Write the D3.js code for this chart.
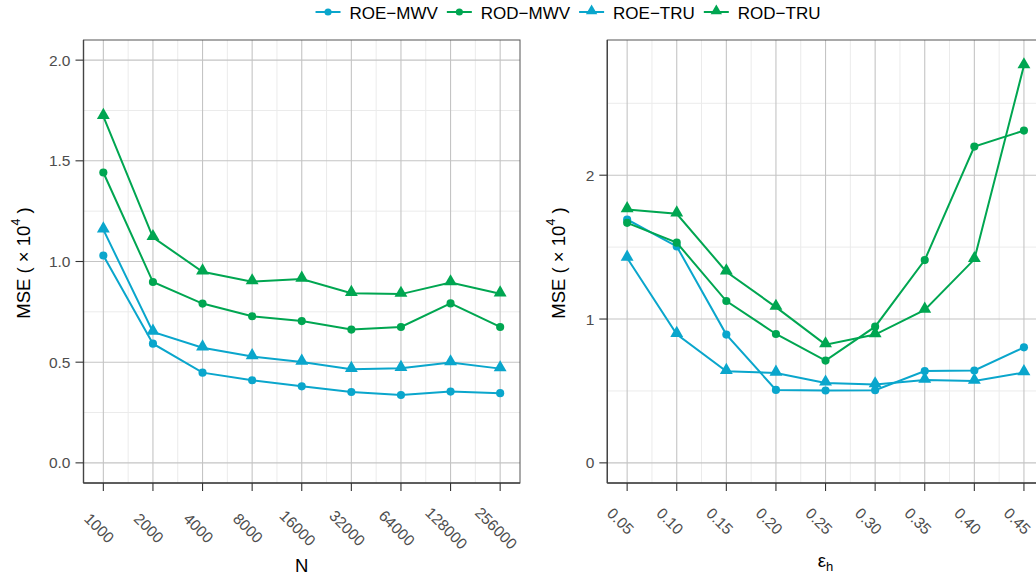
<!DOCTYPE html>
<html>
<head>
<meta charset="utf-8">
<script src="https://cdn.jsdelivr.net/npm/d3@7"></script>
<style>
  body { margin: 0; background: #fff; }
  svg { font-family: "Liberation Sans", Arial, sans-serif; }
</style>
</head>
<body>
<div id="vis"></div>
<script>
var w = 1036, h = 576;

// series names and colours
var seriesNames = ["ROE\u2212MWV", "ROD\u2212MWV", "ROE\u2212TRU", "ROD\u2212TRU"];
var seriesColors = ["#0aa6cc", "#00a651", "#0aa6cc", "#00a651"];
var seriesShapes = ["circle", "circle", "triangle", "triangle"];

// left panel: sample size N
var nValues = [1000, 2000, 4000, 8000, 16000, 32000, 64000, 128000, 256000];
var nROEMWV = [1.030, 0.592, 0.448, 0.410, 0.380, 0.352, 0.337, 0.354, 0.346];
var nRODMWV = [1.442, 0.898, 0.791, 0.728, 0.704, 0.662, 0.675, 0.792, 0.675];
var nROETRU = [1.158, 0.650, 0.572, 0.528, 0.501, 0.465, 0.470, 0.498, 0.468];
var nRODTRU = [1.721, 1.120, 0.949, 0.900, 0.913, 0.842, 0.838, 0.895, 0.840];
var nYTicks = [0, 0.5, 1.0, 1.5, 2.0];

// right panel: epsilon_h
var eValues = [0.05, 0.10, 0.15, 0.20, 0.25, 0.30, 0.35, 0.40, 0.45];
var eROEMWV = [1.692, 1.505, 0.892, 0.507, 0.503, 0.505, 0.639, 0.642, 0.803];
var eRODMWV = [1.669, 1.531, 1.125, 0.896, 0.711, 0.947, 1.410, 2.199, 2.310];
var eROETRU = [1.424, 0.894, 0.637, 0.625, 0.556, 0.544, 0.576, 0.569, 0.628];
var eRODTRU = [1.762, 1.732, 1.329, 1.083, 0.822, 0.892, 1.063, 1.415, 2.762];
var eYTicks = [0, 1, 2];

var svg = d3.select("#vis").append("svg")
    .attr("width", w)
    .attr("height", h);

var pTop = 40, pBottom = 483;

// build one panel
function panel(opt) {
    var g = svg.append("g");
    var x = opt.x, y = opt.y;
    var x0 = x.range()[0], x1 = x.range()[1];

    // minor grid
    g.selectAll(".gx-minor").data(opt.xMinor).enter().append("line")
        .attr("x1", function(d){ return x(d); }).attr("x2", function(d){ return x(d); })
        .attr("y1", pTop).attr("y2", pBottom)
        .attr("stroke", "#ebebeb").attr("stroke-width", 1);
    g.selectAll(".gy-minor").data(opt.yMinor).enter().append("line")
        .attr("x1", x0).attr("x2", x1)
        .attr("y1", function(d){ return y(d); }).attr("y2", function(d){ return y(d); })
        .attr("stroke", "#ebebeb").attr("stroke-width", 1);

    // major grid
    g.selectAll(".gx").data(opt.xTicks).enter().append("line")
        .attr("x1", function(d){ return x(d); }).attr("x2", function(d){ return x(d); })
        .attr("y1", pTop).attr("y2", pBottom)
        .attr("stroke", "#c4c4c4").attr("stroke-width", 1.1);
    g.selectAll(".gy").data(opt.yTicks).enter().append("line")
        .attr("x1", x0).attr("x2", x1)
        .attr("y1", function(d){ return y(d); }).attr("y2", function(d){ return y(d); })
        .attr("stroke", "#c4c4c4").attr("stroke-width", 1.1);

    // lines and markers
    var line = d3.line()
        .x(function(d){ return x(d[0]); })
        .y(function(d){ return y(d[1]); });

    opt.series.forEach(function(vals, k) {
        var pts = opt.xTicks.map(function(v, i){ return [v, vals[i]]; });
        g.append("path")
            .attr("d", line(pts))
            .attr("fill", "none")
            .attr("stroke", seriesColors[k])
            .attr("stroke-width", 2);
        var sym = d3.symbol()
            .type(seriesShapes[k] == "circle" ? d3.symbolCircle : d3.symbolTriangle)
            .size(seriesShapes[k] == "circle" ? 52 : 72);
        g.selectAll(".pt" + k).data(pts).enter().append("path")
            .attr("d", sym)
            .attr("transform", function(d){
                var dy = seriesShapes[k] == "circle" ? 0 : -1;
                return "translate(" + x(d[0]) + "," + (y(d[1]) + dy) + ")";
            })
            .attr("fill", seriesColors[k]);
    });

    // border
    g.append("rect")
        .attr("x", x0).attr("y", pTop)
        .attr("width", x1 - x0).attr("height", pBottom - pTop)
        .attr("fill", "none").attr("stroke", "#555").attr("stroke-width", 1);
    g.append("line").attr("x1", x0).attr("x2", x0).attr("y1", pTop).attr("y2", pBottom)
        .attr("stroke", "#444").attr("stroke-width", 1.4);
    g.append("line").attr("x1", x0).attr("x2", x1).attr("y1", pBottom).attr("y2", pBottom)
        .attr("stroke", "#444").attr("stroke-width", 1.4);

    // y ticks
    g.selectAll(".yt").data(opt.yTicks).enter().append("line")
        .attr("x1", x0 - 8).attr("x2", x0)
        .attr("y1", function(d){ return y(d); }).attr("y2", function(d){ return y(d); })
        .attr("stroke", "#333").attr("stroke-width", 1.1);
    g.selectAll(".yl").data(opt.yTicks).enter().append("text")
        .attr("x", x0 - 13)
        .attr("y", function(d){ return y(d); })
        .attr("dy", "0.36em")
        .attr("text-anchor", "end")
        .attr("font-size", 15.5)
        .attr("fill", "#4d4d4d")
        .text(opt.yFormat);

    // x ticks
    g.selectAll(".xt").data(opt.xTicks).enter().append("line")
        .attr("x1", function(d){ return x(d); }).attr("x2", function(d){ return x(d); })
        .attr("y1", pBottom).attr("y2", pBottom + 8)
        .attr("stroke", "#333").attr("stroke-width", 1.1);
    g.selectAll(".xl").data(opt.xTicks).enter().append("text")
        .attr("transform", function(d){
            return "translate(" + (x(d) - opt.labDx) + "," + opt.labY + ") rotate(45)";
        })
        .attr("dy", "0.36em")
        .attr("text-anchor", "middle")
        .attr("font-size", 15.5)
        .attr("fill", "#4d4d4d")
        .text(opt.xFormat);

    // y title
    var yt = g.append("text")
        .attr("transform", "translate(" + opt.yTitleX + ",263) rotate(-90)")
        .attr("text-anchor", "middle")
        .attr("dy", "0.36em")
        .attr("font-size", 18.5)
        .attr("fill", "#000");
    yt.append("tspan").text("MSE ( \u00d7 10");
    yt.append("tspan").attr("font-size", 12.5).attr("dy", "-0.75em").text("4");
    yt.append("tspan").attr("dy", "0.5em").text(" )");

    return g;
}

// left panel scale (log2 spaced, 5% expansion)
var xN = d3.scaleLog().base(2)
    .domain([1000 / Math.pow(2, 0.4), 256000 * Math.pow(2, 0.4)])
    .range([83.5, 520]);
var yN = d3.scaleLinear().domain([-0.1, 2.1]).range([pBottom, pTop]);

var nMinor = nValues.slice(0, -1).map(function(v){ return v * Math.SQRT2; });

panel({
    x: xN, y: yN,
    xTicks: nValues, yTicks: nYTicks,
    xMinor: nMinor, yMinor: [0.25, 0.75, 1.25, 1.75],
    series: [nROEMWV, nRODMWV, nROETRU, nRODTRU],
    yFormat: d3.format(".1f"),
    xFormat: function(d){ return d; },
    labDx: 4, labY: 528,
    yTitleX: 23
});

svg.append("text")
    .attr("x", xN(Math.sqrt(1000 * 256000))).attr("y", 572)
    .attr("text-anchor", "middle")
    .attr("font-size", 18.5)
    .text("N");

// right panel scale
var xE = d3.scaleLinear()
    .domain([0.05 - 0.02, 0.45 + 0.02])
    .range([607.3, 607.3 + 0.44 / 0.05 * 49.6]);
var yE = d3.scaleLinear().domain([-0.14, 2.94]).range([pBottom, pTop]);

var eMinor = eValues.slice(0, -1).map(function(v){ return v + 0.025; });

panel({
    x: xE, y: yE,
    xTicks: eValues, yTicks: eYTicks,
    xMinor: eMinor, yMinor: [0.5, 1.5, 2.5],
    series: [eROEMWV, eRODMWV, eROETRU, eRODTRU],
    yFormat: d3.format("d"),
    xFormat: d3.format(".2f"),
    labDx: 6.5, labY: 521,
    yTitleX: 558
});

var et = svg.append("text")
    .attr("x", xE(0.25)).attr("y", 567)
    .attr("text-anchor", "middle")
    .attr("font-size", 18.5);
et.append("tspan").text("\u03b5");
et.append("tspan").attr("font-size", 13).attr("dy", "0.3em").text("h");

// legend at top
var legend = svg.append("g");
var lx = 0;
seriesNames.forEach(function(name, k) {
    var item = legend.append("g").attr("transform", "translate(" + lx + ",0)");
    item.append("line")
        .attr("x1", 0).attr("x2", 25).attr("y1", 12).attr("y2", 12)
        .attr("stroke", seriesColors[k]).attr("stroke-width", 2);
    var sym = d3.symbol()
        .type(seriesShapes[k] == "circle" ? d3.symbolCircle : d3.symbolTriangle)
        .size(seriesShapes[k] == "circle" ? 40 : 56);
    item.append("path")
        .attr("d", sym)
        .attr("transform", "translate(12.5," + (seriesShapes[k] == "circle" ? 12 : 11) + ")")
        .attr("fill", seriesColors[k]);
    var t = item.append("text")
        .attr("x", 34).attr("y", 12.5)
        .attr("dy", "0.36em")
        .attr("font-size", 17)
        .text(name);
    lx += 34 + t.node().getComputedTextLength() + 9;
});
var lw = lx - 9;
legend.attr("transform", "translate(" + (568 - lw / 2) + ",0)");
</script>
</body>
</html>
